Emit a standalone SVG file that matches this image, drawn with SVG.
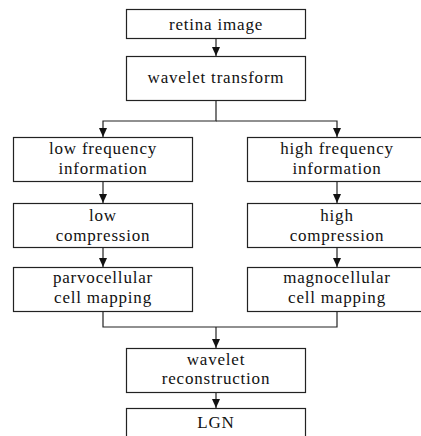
<svg xmlns="http://www.w3.org/2000/svg" width="421" height="436" viewBox="0 0 421 436">
<style>
.box{fill:#fff;stroke:#222;stroke-width:1.2}
.t{font-family:'Liberation Serif',Tinos,'Times New Roman',Times,'Noto Serif','DejaVu Serif',FreeSerif,serif;font-size:17px;letter-spacing:0.8px;fill:#111;text-anchor:middle}
.c{fill:none;stroke:#222;stroke-width:1.2}
</style>
<defs>
<marker id="ah" markerWidth="10" markerHeight="8" refX="9" refY="4" orient="auto" markerUnits="userSpaceOnUse">
<path d="M0,0 L9,4 L0,8 Z" fill="#111"/>
</marker>
</defs>
<rect width="421" height="436" fill="#fff"/>
<g id="connectors">
<path class="c" d="M216,38 V56" marker-end="url(#ah)"/>
<path class="c" d="M216,100 V121 H103 V137" marker-end="url(#ah)"/>
<path class="c" d="M216,121 H337 V137" marker-end="url(#ah)"/>
<path class="c" d="M103,181 V203" marker-end="url(#ah)"/>
<path class="c" d="M337,181 V203" marker-end="url(#ah)"/>
<path class="c" d="M103,247 V267" marker-end="url(#ah)"/>
<path class="c" d="M337,247 V267" marker-end="url(#ah)"/>
<path class="c" d="M103,311 V327 H337 V311"/>
<path class="c" d="M216,327 V348" marker-end="url(#ah)"/>
<path class="c" d="M216,392 V408" marker-end="url(#ah)"/>
</g>
<g id="retina">
<rect class="box" x="126.5" y="9.5" width="179" height="29"/>
<text class="t" x="216" y="30">retina image</text>
</g>
<g id="wavelet-transform">
<rect class="box" x="126.5" y="56.5" width="179" height="44"/>
<text class="t" x="216" y="83">wavelet transform</text>
</g>
<g id="low-freq">
<rect class="box" x="13.5" y="137.5" width="179" height="44"/>
<text class="t" x="103" y="154">low frequency</text>
<text class="t" x="103" y="174">information</text>
</g>
<g id="high-freq">
<rect class="box" x="247.5" y="137.5" width="180" height="44"/>
<text class="t" x="337" y="154">high frequency</text>
<text class="t" x="337" y="174">information</text>
</g>
<g id="low-comp">
<rect class="box" x="13.5" y="203.5" width="179" height="44"/>
<text class="t" x="103" y="221">low</text>
<text class="t" x="103" y="241">compression</text>
</g>
<g id="high-comp">
<rect class="box" x="247.5" y="203.5" width="180" height="44"/>
<text class="t" x="337" y="221">high</text>
<text class="t" x="337" y="241">compression</text>
</g>
<g id="parvo">
<rect class="box" x="13.5" y="267.5" width="179" height="44"/>
<text class="t" x="103" y="283">parvocellular</text>
<text class="t" x="103" y="303">cell mapping</text>
</g>
<g id="magno">
<rect class="box" x="247.5" y="267.5" width="180" height="44"/>
<text class="t" x="337" y="283">magnocellular</text>
<text class="t" x="337" y="303">cell mapping</text>
</g>
<g id="reconstruction">
<rect class="box" x="126.5" y="348.5" width="179" height="44"/>
<text class="t" x="216" y="365">wavelet</text>
<text class="t" x="216" y="384">reconstruction</text>
</g>
<g id="lgn">
<rect class="box" x="126.5" y="408.5" width="179" height="44"/>
<text class="t" x="216" y="428">LGN</text>
</g>
</svg>
